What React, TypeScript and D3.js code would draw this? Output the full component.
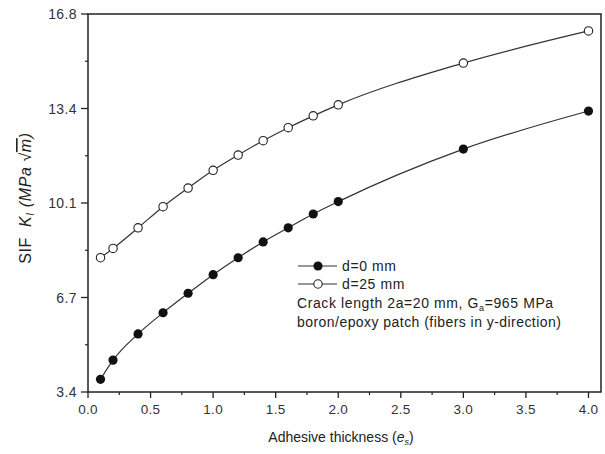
import React from "react";
import * as d3 from "d3";

const xs = [0.1, 0.2, 0.4, 0.6, 0.8, 1.0, 1.2, 1.4, 1.6, 1.8, 2.0, 3.0, 4.0];
const d0 = [3.85, 4.53, 5.46, 6.21, 6.9, 7.56, 8.16, 8.72, 9.22, 9.71, 10.15, 12.01, 13.36];
const d25 = [8.16, 8.49, 9.22, 9.97, 10.63, 11.26, 11.8, 12.31, 12.77, 13.19, 13.58, 15.06, 16.2];
const xTicks = [0, 0.5, 1.0, 1.5, 2.0, 2.5, 3.0, 3.5, 4.0];
const yTicks = [3.4, 6.75, 10.1, 13.45, 16.8];
const yTickLabels = ["3.4", "6.7", "10.1", "13.4", "16.8"];

const W = 605, H = 454;
const L = 88, R = 601, T = 14, B = 392;
const FONT = "'Liberation Sans', Arial, sans-serif";

export default function App() {
  const x = d3.scaleLinear().domain([0, 4.1]).range([L, R]);
  const y = d3.scaleLinear().domain([3.4, 16.8]).range([B, T]);
  const line = d3
    .line<[number, number]>()
    .x((d) => x(d[0]))
    .y((d) => y(d[1]))
    .curve(d3.curveMonotoneX);
  const s0 = xs.map((v, i) => [v, d0[i]] as [number, number]);
  const s25 = xs.map((v, i) => [v, d25[i]] as [number, number]);
  const xMinor = d3.range(0.25, 4.01, 0.5);
  const yMinor = yTicks.slice(0, -1).map((v, i) => (v + yTicks[i + 1]) / 2);
  const stroke = "#333";
  const legendFont = 14;
  return (
    <svg width={W} height={H} style={{ position: "absolute", left: 0, top: 0 }} fontFamily={FONT}>
      <rect x={0} y={0} width={W} height={H} fill="#fff" />
      <path d={line(s0) || ""} fill="none" stroke={stroke} strokeWidth={1.2} />
      <path d={line(s25) || ""} fill="none" stroke={stroke} strokeWidth={1.2} />
      {s0.map((d, i) => (
        <circle key={"a" + i} cx={x(d[0])} cy={y(d[1])} r={4.6} fill="#111" />
      ))}
      {s25.map((d, i) => (
        <circle key={"b" + i} cx={x(d[0])} cy={y(d[1])} r={4.2} fill="#fff" stroke="#222" strokeWidth={1.1} />
      ))}
      <rect x={L} y={T} width={R - L} height={B - T} fill="none" stroke="#222" strokeWidth={1.5} />
      {xTicks.map((t) => (
        <g key={"xt" + t}>
          <line x1={x(t)} x2={x(t)} y1={B} y2={B + 6} stroke="#222" strokeWidth={1.3} />
          <text x={x(t)} y={414} fontSize={13.5} letterSpacing={0.3} textAnchor="middle" fill="#333">
            {t.toFixed(1)}
          </text>
        </g>
      ))}
      {xMinor.map((t) => (
        <line key={"xm" + t} x1={x(t)} x2={x(t)} y1={B} y2={B + 3} stroke="#222" strokeWidth={1.2} />
      ))}
      {yTicks.map((t, i) => (
        <g key={"yt" + t}>
          <line x1={L - 7} x2={L} y1={y(t)} y2={y(t)} stroke="#222" strokeWidth={1.3} />
          <text x={77} y={y(t) + 5} fontSize={14} letterSpacing={0.4} textAnchor="end" fill="#333">
            {yTickLabels[i]}
          </text>
        </g>
      ))}
      {yMinor.map((t) => (
        <line key={"ym" + t} x1={L - 3} x2={L} y1={y(t)} y2={y(t)} stroke="#222" strokeWidth={1.2} />
      ))}
      <text x={341} y={442} fontSize={14} textAnchor="middle" fill="#222">
        Adhesive thickness (
        <tspan fontStyle="italic">e</tspan>
        <tspan fontStyle="italic" fontSize={9} dy={3}>s</tspan>
        <tspan dy={-3}>)</tspan>
      </text>
      <text transform="translate(31,198) rotate(-90)" fontSize={16} letterSpacing={0.6} textAnchor="middle" fill="#222">
        SIF{"\u00a0\u00a0"}
        <tspan fontStyle="italic">K</tspan>
        <tspan fontStyle="italic" fontSize={10} dy={3}>I</tspan>
        <tspan fontStyle="italic" dy={-3}>{"\u00a0(MPa\u00a0"}</tspan>
        <tspan>√</tspan>
        <tspan fontStyle="italic" textDecoration="overline">m</tspan>
        <tspan fontStyle="italic">)</tspan>
      </text>
      <line x1={298} x2={337} y1={266} y2={266} stroke={stroke} strokeWidth={1.2} />
      <circle cx={318} cy={266} r={4.6} fill="#111" />
      <text x={342} y={271} fontSize={legendFont} letterSpacing={0.6} fill="#222">d=0 mm</text>
      <line x1={298} x2={337} y1={284} y2={284} stroke={stroke} strokeWidth={1.2} />
      <circle cx={318} cy={284} r={4.2} fill="#fff" stroke="#222" strokeWidth={1.1} />
      <text x={342} y={289} fontSize={legendFont} letterSpacing={0.6} fill="#222">d=25 mm</text>
      <text x={297} y={308} fontSize={legendFont} letterSpacing={0.6} fill="#222">
        Crack length 2a=20 mm, G<tspan fontSize={9} dy={3}>a</tspan>
        <tspan dy={-3}>=965 MPa</tspan>
      </text>
      <text x={297} y={327} fontSize={legendFont} letterSpacing={0.45} fill="#222">
        boron/epoxy patch (fibers in y-direction)
      </text>
    </svg>
  );
}
